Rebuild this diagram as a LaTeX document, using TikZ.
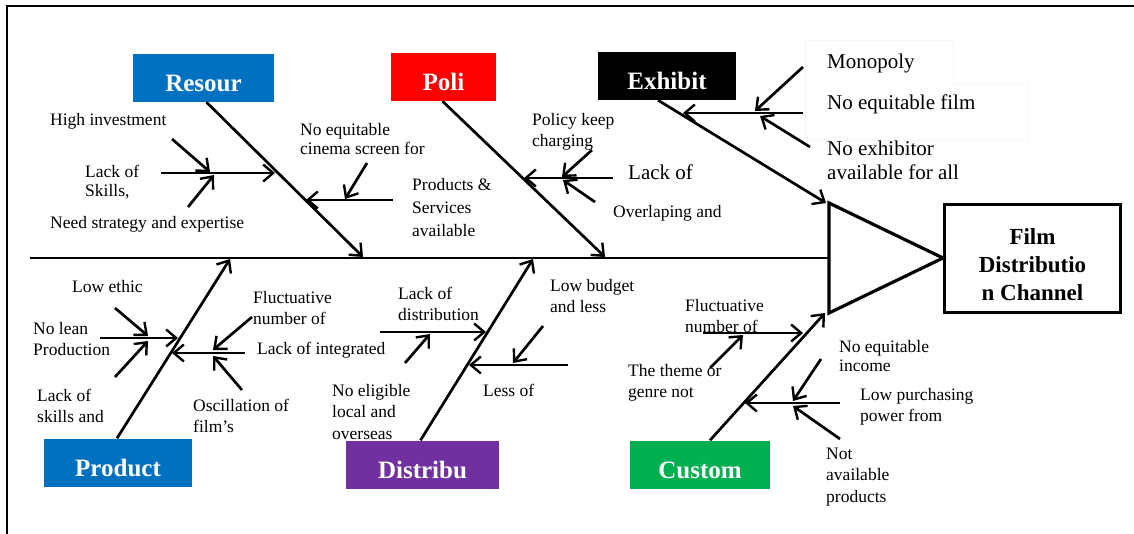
\documentclass[tikz,border=0pt]{standalone}
\usepackage{fontspec}
\setmainfont{Liberation Serif}
\usetikzlibrary{arrows.meta}

\definecolor{resblue}{RGB}{0,112,192}
\definecolor{polred}{RGB}{255,0,0}
\definecolor{dispurple}{RGB}{112,48,160}
\definecolor{cusgreen}{RGB}{0,176,80}

\tikzset{
  spine/.style={line width=2.8pt},
  bone/.style={line width=2.7pt, -{Straight Barb[length=10pt,width=17pt,line width=2.4pt]}},
  catbox/.style={fill=#1, text=white, inner sep=0pt, minimum height=48pt,
    text height=28pt, text depth=0pt, font=\bfseries\fontsize{25}{27}\selectfont},
  headbox/.style={draw, line width=3.5pt, minimum width=176pt, minimum height=108pt,
    align=center, font=\bfseries\fontsize{23}{28}\selectfont},
  lbl/.style={anchor=west, align=left, inner sep=0pt, font=\fontsize{17.5}{21.5}\selectfont},
  biglbl/.style={anchor=west, align=left, inner sep=0pt, font=\fontsize{21}{24}\selectfont}
}

\begin{document}
\begin{tikzpicture}[x=1pt,y=-1pt]
\useasboundingbox (0,0) rectangle (1134,534);

% Frame
\draw[line width=1.8pt] (7,534) -- (7,6) -- (1134,6);
\draw[black!3, line width=0.6pt] (805,40) -- (953,40) -- (953,83) -- (1028,83) -- (1028,140) -- (805,140) -- cycle;

% Spine and head
\coordinate (tail) at (30,258);
\coordinate (tritop) at (829,203);
\coordinate (tribot) at (829,313);
\coordinate (triapex) at (943,258);
\draw[spine] (tail) -- (tail -| tritop);
\draw[line width=3.2pt, line join=miter] (tritop) -- (tribot) -- (triapex) -- cycle;
\node[headbox] (head) at (1032.5,258.5) {\rule{0pt}{28pt}Film\\Distributio\\n Channel};

% Category boxes
\node[catbox=resblue, minimum width=141pt] (res) at (203.5,78) {Resour};
\node[catbox=polred, minimum width=105pt] (pol) at (443.5,77) {Poli};
\node[catbox=black, minimum width=138pt] (exh) at (667,76) {Exhibit};
\node[catbox=resblue, minimum width=148pt] (pro) at (118,462.5) {Product};
\node[catbox=dispurple, minimum width=153pt] (dis) at (422.5,464.5) {Distribu};
\node[catbox=cusgreen, minimum width=140pt] (cus) at (700,464.5) {Custom};

% Main bones
\coordinate (resend) at (363,257);
\coordinate (polend) at (605,257);
\coordinate (exhend) at (826,203);
\coordinate (proend) at (230,259);
\coordinate (disend) at (533,259);
\coordinate (cusend) at (825,313);
\draw[bone] ([xshift=3pt]res.south) -- (resend);
\draw[bone] ([xshift=-1pt]pol.south) -- (polend);
\draw[bone] ([xshift=-9pt]exh.south) -- (exhend);
\draw[bone] ([xshift=-1pt]pro.north) -- (proend);
\draw[bone] ([xshift=-2pt]dis.north) -- (disend);
\draw[bone] ([xshift=10pt]cus.north) -- (cusend);

% Resour causes
\coordinate (r1s) at (161,173); \coordinate (r1e) at (275,173);
\coordinate (r1as) at (172,139); \coordinate (r1ae) at (210,172);
\coordinate (r1bs) at (188,207); \coordinate (r1be) at (214,175);
\coordinate (r2s) at (393,200); \coordinate (r2e) at (306,200);
\coordinate (r2as) at (367,163); \coordinate (r2ae) at (345,199);
\draw[bone] (r1s) -- (r1e);
\draw[bone] (r1as) -- (r1ae);
\draw[bone] (r1bs) -- (r1be);
\draw[bone] (r2s) -- (r2e);
\draw[bone] (r2as) -- (r2ae);
\node[lbl] (rhigh) at (50,121) {High investment};
\node[lbl, font=\fontsize{17.5}{19}\selectfont] (rskill) at (85,182) {Lack of\\Skills,};
\node[lbl] (rneed) at (50,224) {Need strategy and expertise};
\node[lbl, font=\fontsize{17.5}{19}\selectfont] (rcine) at (300,139) {No equitable\\cinema screen for};
\node[lbl, font=\fontsize{17.5}{23}\selectfont] (rprod) at (412,208) {Products \&\\Services\\available};

% Poli causes
\coordinate (p1s) at (613,178); \coordinate (p1e) at (524,178);
\coordinate (p1as) at (592,150); \coordinate (p1ae) at (562,177);
\coordinate (p1bs) at (595,202); \coordinate (p1be) at (563,180);
\draw[bone] (p1s) -- (p1e);
\draw[bone] (p1as) -- (p1ae);
\draw[bone] (p1bs) -- (p1be);
\node[lbl] (ppol) at (532,132) {Policy keep\\charging};
\node[biglbl] (plack) at (628,172) {Lack of};
\node[lbl] (pover) at (613,213) {Overlaping and};

% Exhibit causes
\coordinate (e1s) at (803,113); \coordinate (e1e) at (683,113);
\coordinate (e1as) at (803,67); \coordinate (e1ae) at (755,111);
\coordinate (e1bs) at (810,147); \coordinate (e1be) at (760,116);
\draw[bone] (e1s) -- (e1e);
\draw[bone] (e1as) -- (e1ae);
\draw[bone] (e1bs) -- (e1be);
\node[biglbl] (emono) at (827,63) {Monopoly};
\node[biglbl] (efilm) at (827,104) {No equitable film};
\node[biglbl] (eexh) at (827,160) {No exhibitor\\available for all};

% Product causes
\coordinate (d1s) at (100,338); \coordinate (d1e) at (178,338);
\coordinate (d1as) at (115,308); \coordinate (d1ae) at (148,336);
\coordinate (d1bs) at (115,377); \coordinate (d1be) at (148,341);
\coordinate (d2s) at (245,353); \coordinate (d2e) at (172,353);
\coordinate (d2as) at (252,317); \coordinate (d2ae) at (213,350);
\coordinate (d2bs) at (242,390); \coordinate (d2be) at (213,356);
\draw[bone] (d1s) -- (d1e);
\draw[bone] (d1as) -- (d1ae);
\draw[bone] (d1bs) -- (d1be);
\draw[bone] (d2s) -- (d2e);
\draw[bone] (d2as) -- (d2ae);
\draw[bone] (d2bs) -- (d2be);
\node[lbl] (dethic) at (72,287) {Low ethic};
\node[lbl] (dlean) at (33,339) {No lean\\Production};
\node[lbl] (dskill) at (37,406) {Lack of\\skills and};
\node[lbl] (dfluc) at (253,308) {Fluctuative\\number of};
\node[lbl] (dinteg) at (257,350) {Lack of integrated};
\node[lbl] (dosc) at (193,416) {Oscillation of\\film's};

% Distribu causes
\coordinate (s1s) at (380,332); \coordinate (s1e) at (486,332);
\coordinate (s1as) at (405,363); \coordinate (s1ae) at (430,334);
\coordinate (s2s) at (568,365); \coordinate (s2e) at (469,365);
\coordinate (s2as) at (543,326); \coordinate (s2ae) at (513,363);
\draw[bone] (s1s) -- (s1e);
\draw[bone] (s1as) -- (s1ae);
\draw[bone] (s2s) -- (s2e);
\draw[bone] (s2as) -- (s2ae);
\node[lbl] (sdist) at (398,304) {Lack of\\distribution};
\node[lbl] (selig) at (332,412) {No eligible\\local and\\overseas};
\node[lbl] (sbudg) at (550,296) {Low budget\\and less};
\node[lbl] (sless) at (483,390) {Less of};

% Custom causes
\coordinate (c1s) at (703,333); \coordinate (c1e) at (803,333);
\coordinate (c1as) at (710,368); \coordinate (c1ae) at (743,335);
\coordinate (c2s) at (840,403); \coordinate (c2e) at (745,403);
\coordinate (c2as) at (821,359); \coordinate (c2ae) at (793,401);
\coordinate (c2bs) at (840,439); \coordinate (c2be) at (793,406);
\draw[bone] (c1s) -- (c1e);
\draw[bone] (c1as) -- (c1ae);
\draw[bone] (c2s) -- (c2e);
\draw[bone] (c2as) -- (c2ae);
\draw[bone] (c2bs) -- (c2be);
\node[lbl] (cfluc) at (685,316) {Fluctuative\\number of};
\node[lbl] (ctheme) at (628,383) {The theme or\\genre not};
\node[lbl, font=\fontsize{17.5}{19}\selectfont] (cinc) at (839,356) {No equitable\\income};
\node[lbl] (cpurch) at (860,407) {Low purchasing\\power from};
\node[lbl] (cnot) at (826,477) {Not\\available\\products};

\end{tikzpicture}
\end{document}
